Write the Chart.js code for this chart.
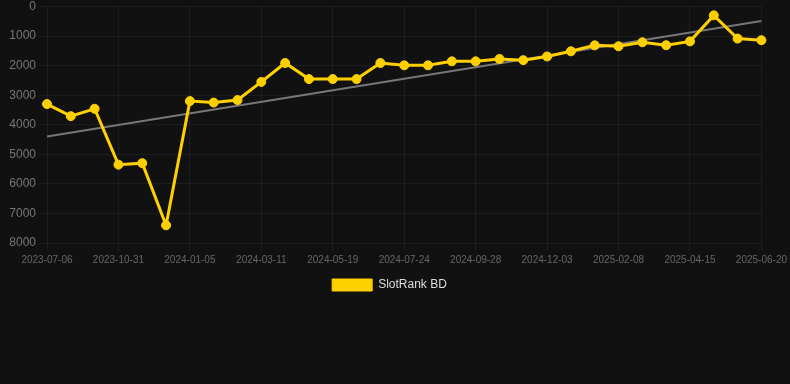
<!DOCTYPE html>
<html>
<head>
<meta charset="utf-8">
<script src="https://cdn.jsdelivr.net/npm/chart.js@4/dist/chart.umd.min.js"></script>
<style>
  html, body { margin: 0; padding: 0; background: #111111; }
  #wrap { position: relative; width: 790px; height: 301px; }
</style>
</head>
<body>
<div id="wrap"><canvas id="c"></canvas></div>
<script>
const dates = [
  "2023-07-06","2023-08-14","2023-09-22","2023-10-31","2023-11-22","2023-12-14",
  "2024-01-05","2024-01-27","2024-02-18","2024-03-11","2024-04-03","2024-04-26",
  "2024-05-19","2024-06-10","2024-07-02","2024-07-24","2024-08-15","2024-09-06",
  "2024-09-28","2024-10-20","2024-11-11","2024-12-03","2024-12-25","2025-01-17",
  "2025-02-08","2025-03-02","2025-03-24","2025-04-15","2025-05-07","2025-05-29",
  "2025-06-20"
];
const rankBD = [
  3300, 3710, 3460, 5350, 5300, 7400,
  3200, 3250, 3165, 2550, 1910, 2455,
  2455, 2455, 1910, 1990, 1990, 1855,
  1855, 1775, 1815, 1690, 1515, 1315,
  1345, 1210, 1310, 1180, 300, 1085,
  1140
];
const trendBD = [4400].concat(new Array(29).fill(null), [490]);
const yTicks = [0, 1000, 2000, 3000, 4000, 5000, 6000, 7000, 8000];

new Chart(document.getElementById('c'), {
  type: 'line',
  data: {
    labels: dates,
    datasets: [
      {
        label: 'SlotRank BD',
        data: rankBD,
        borderColor: '#FFD000',
        backgroundColor: '#FFD000',
        borderWidth: 3,
        pointRadius: 4.5,
        pointBorderWidth: 1,
        pointHoverRadius: 4.5,
        pointBackgroundColor: '#FFD000',
        pointBorderColor: '#FFD000',
        tension: 0,
        order: 1
      },
      {
        label: 'trend',
        data: trendBD,
        spanGaps: true,
        borderColor: '#777777',
        borderWidth: 2,
        pointRadius: 0,
        fill: false,
        order: 2
      }
    ]
  },
  options: {
    responsive: true,
    maintainAspectRatio: false,
    animation: false,
    layout: { padding: { top: 0, right: 11, left: 0, bottom: 0 } },
    plugins: {
      legend: {
        position: 'bottom',
        labels: {
          boxWidth: 40,
          boxHeight: 12,
          padding: 10,
          color: '#dddddd',
          font: { family: 'Liberation Sans, Arial, sans-serif', size: 12 },
          generateLabels: (chart) => {
            const ds = chart.data.datasets[0];
            return [{
              text: ds.label,
              fillStyle: ds.backgroundColor,
              strokeStyle: ds.borderColor,
              lineWidth: 1,
              fontColor: '#dddddd',
              hidden: false,
              datasetIndex: 0
            }];
          }
        }
      },
      tooltip: { enabled: false }
    },
    scales: {
      x: {
        ticks: {
          autoSkip: false,
          maxRotation: 0,
          color: '#666666',
          font: { family: 'Liberation Sans, Arial, sans-serif', size: 10 },
          callback: function(v, i) { return i % 3 === 0 ? this.getLabelForValue(v) : ''; }
        },
        grid: {
          color: (ctx) => (ctx.index % 3 === 0 ? 'rgba(255,255,255,0.05)' : 'transparent')
        },
        border: { display: false }
      },
      y: {
        reverse: true,
        min: 0,
        max: 8000,
        afterBuildTicks: (axis) => { axis.ticks = yTicks.map(v => ({ value: v })); },
        afterFit: (axis) => { axis.width = 47; axis.paddingTop = 6.5; },
        ticks: {
          color: '#777777',
          font: { family: 'Liberation Sans, Arial, sans-serif', size: 12 },
          callback: (v) => String(v)
        },
        grid: { color: 'rgba(255,255,255,0.05)' },
        border: { display: false }
      }
    }
  }
});
</script>
</body>
</html>
